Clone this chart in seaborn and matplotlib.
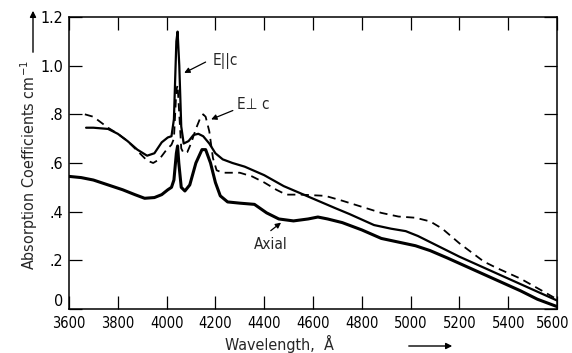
import numpy as np
import pandas as pd
import matplotlib
matplotlib.use("Agg")
import matplotlib.pyplot as plt
import matplotlib.transforms as mtransforms
import seaborn as sns

# ---- data ----
epar_wl = [3670, 3700, 3760, 3800, 3840, 3880, 3920, 3950, 3980, 4005, 4020, 4030, 4040, 4045,
           4052, 4060, 4070, 4090, 4110, 4130, 4150, 4175, 4200, 4230, 4270, 4320, 4400, 4480,
           4550, 4620, 4690, 4750, 4850, 4920, 4980, 5030, 5080, 5140, 5200, 5300, 5400, 5500, 5600]
epar_val = [0.745, 0.745, 0.74, 0.72, 0.69, 0.655, 0.63, 0.64, 0.685, 0.705, 0.71, 0.78, 1.10, 1.14,
            1.00, 0.75, 0.68, 0.69, 0.715, 0.72, 0.71, 0.68, 0.64, 0.615, 0.60, 0.585, 0.55, 0.505,
            0.475, 0.445, 0.415, 0.39, 0.345, 0.33, 0.32, 0.30, 0.275, 0.245, 0.215, 0.17, 0.125, 0.08, 0.035]

eperp_wl = [3665, 3700, 3760, 3800, 3840, 3880, 3920, 3945, 3970, 4000, 4020, 4030, 4040, 4045,
            4052, 4060, 4070, 4085, 4100, 4120, 4140, 4150, 4160, 4175, 4190, 4205, 4230, 4300,
            4350, 4400, 4450, 4490, 4550, 4650, 4720, 4800, 4880, 4950, 5020, 5080, 5130, 5200,
            5300, 5350, 5450, 5530, 5600]
eperp_val = [0.80, 0.79, 0.745, 0.72, 0.69, 0.65, 0.61, 0.60, 0.615, 0.655, 0.675, 0.70, 0.90, 0.92,
             0.80, 0.66, 0.64, 0.645, 0.68, 0.74, 0.79, 0.80, 0.79, 0.73, 0.62, 0.57, 0.56, 0.56,
             0.545, 0.52, 0.49, 0.47, 0.47, 0.465, 0.445, 0.42, 0.395, 0.38, 0.375, 0.36, 0.33, 0.27,
             0.195, 0.17, 0.125, 0.08, 0.04]

axial_wl = [3600, 3650, 3700, 3760, 3820, 3870, 3910, 3950, 3980, 4005, 4020, 4030, 4040, 4045,
            4050, 4060, 4075, 4095, 4120, 4145, 4160, 4180, 4200, 4220, 4250, 4300, 4360, 4410,
            4460, 4520, 4580, 4620, 4660, 4720, 4800, 4880, 4950, 5020, 5080, 5150, 5250, 5350,
            5450, 5520, 5600]
axial_val = [0.545, 0.54, 0.53, 0.51, 0.49, 0.47, 0.455, 0.458, 0.47, 0.49, 0.50, 0.53, 0.64, 0.67,
             0.60, 0.50, 0.485, 0.51, 0.60, 0.655, 0.655, 0.60, 0.52, 0.465, 0.44, 0.435, 0.43, 0.395,
             0.37, 0.362, 0.37, 0.378, 0.37, 0.355, 0.325, 0.29, 0.275, 0.26, 0.24, 0.21, 0.165, 0.12,
             0.075, 0.04, 0.01]

x_ticks = [3600, 3800, 4000, 4200, 4400, 4600, 4800, 5000, 5200, 5400, 5600]
y_ticks = [0, 0.2, 0.4, 0.6, 0.8, 1.0, 1.2]
y_ticklabels = ["0", ".2", ".4", ".6", ".8", "1.0", "1.2"]

# ---- style ----
sns.set_style("ticks")
FONT = ["DejaVu Sans"]
plt.rcParams["font.family"] = FONT
plt.rcParams["font.stretch"] = "condensed"
plt.rcParams["mathtext.default"] = "regular"

fig = plt.figure(figsize=(5.72, 3.53), dpi=100)
W, H = 572, 353
ax = fig.add_axes([69 / W, 1 - 309 / H, (557 - 69) / W, (309 - 17) / H])

df_par = pd.DataFrame({"wl": epar_wl, "val": epar_val})
df_perp = pd.DataFrame({"wl": eperp_wl, "val": eperp_val})
df_ax = pd.DataFrame({"wl": axial_wl, "val": axial_val})

sns.lineplot(data=df_par, x="wl", y="val", ax=ax, color="black", lw=1.6, sort=False)
sns.lineplot(data=df_perp, x="wl", y="val", ax=ax, color="black", lw=1.3, sort=False,
             linestyle=(0, (4.5, 3)))
sns.lineplot(data=df_ax, x="wl", y="val", ax=ax, color="black", lw=2.2, sort=False)

ax.set_xlim(3600, 5600)
ax.set_ylim(0, 1.2)
ax.set_xticks(x_ticks)
ax.set_xticklabels([str(t) for t in x_ticks])
ax.set_yticks(y_ticks)
ax.set_yticklabels(y_ticklabels)
ax.tick_params(direction="in", top=True, right=True, length=9.5, width=0.9,
               labelsize=11.5, colors="black", pad=4)
ax.tick_params(axis="x", labelsize=10.5, pad=5)
ytl = ax.get_yticklabels()
ytl[0].set_va("bottom")
xtl = ax.get_xticklabels()
xtl[-1].set_transform(xtl[-1].get_transform() +
                      mtransforms.ScaledTranslation(-4 / 100, 0, fig.dpi_scale_trans))
for s in ax.spines.values():
    s.set_visible(True)
    s.set_linewidth(1.1)
    s.set_color("black")
ax.set_xlabel("")
ax.set_ylabel("")

# annotations
ax.text(4190, 1.02, "E||c", fontsize=11, va="center", ha="left")
ax.annotate("", xy=(4062, 0.965), xytext=(4170, 1.02),
            arrowprops=dict(arrowstyle="-|>", color="black", lw=0.9, mutation_scale=8))
ax.text(4288, 0.84, "E\u22a5 c", fontsize=11, va="center", ha="left")
ax.annotate("", xy=(4172, 0.775), xytext=(4282, 0.82),
            arrowprops=dict(arrowstyle="-|>", color="black", lw=0.9, mutation_scale=8))
ax.text(4425, 0.265, "Axial", fontsize=11, va="center", ha="center")
ax.annotate("", xy=(4478, 0.362), xytext=(4418, 0.315),
            arrowprops=dict(arrowstyle="-|>", color="black", lw=0.9, mutation_scale=8))

# axis labels with arrows
fig.text(29 / W, 1 - 165 / H, "Absorption Coefficients cm$^{-1}$", rotation=90,
         ha="center", va="center", fontsize=11.5)
fig.text(279 / W, 1 - 344 / H, "Wavelength,  \u00c5", ha="center", va="center", fontsize=11.5)
ax.annotate("", xy=(33 / W, 1 - 8 / H), xytext=(33 / W, 1 - 55 / H),
            xycoords="figure fraction", textcoords="figure fraction",
            arrowprops=dict(arrowstyle="-|>", color="black", lw=1.0, mutation_scale=9))
ax.annotate("", xy=(455 / W, 1 - 346 / H), xytext=(406 / W, 1 - 346 / H),
            xycoords="figure fraction", textcoords="figure fraction",
            arrowprops=dict(arrowstyle="-|>", color="black", lw=1.0, mutation_scale=9))

fig.savefig("out.png", dpi=100, facecolor="white")
